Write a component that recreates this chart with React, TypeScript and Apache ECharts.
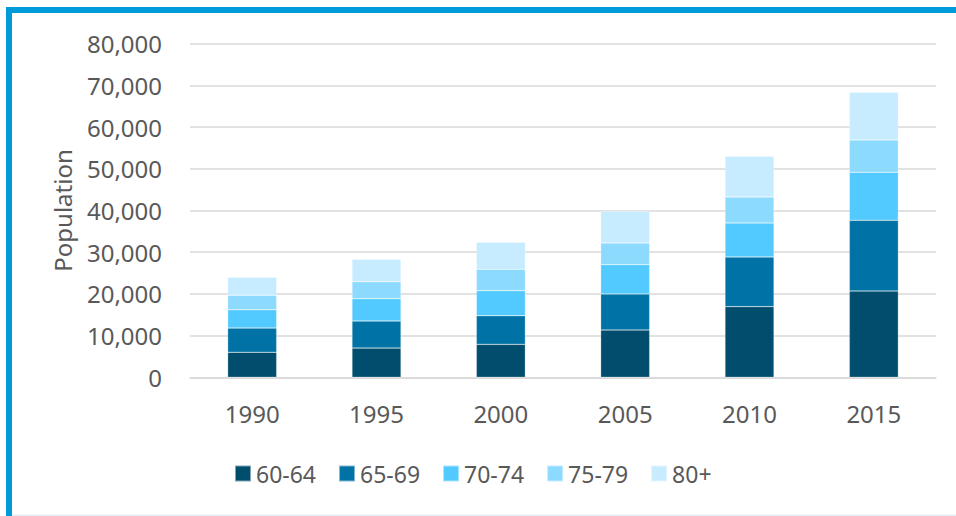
import React, { useEffect, useRef } from "react";
import * as echarts from "echarts";

const years = ["1990", "1995", "2000", "2005", "2010", "2015"];
const ageGroups = ["60-64", "65-69", "70-74", "75-79", "80+"];
const age6064 = [6000, 7000, 7900, 11350, 16950, 20700];
const age6569 = [5800, 6500, 6870, 8630, 11900, 16950];
const age7074 = [4400, 5350, 6000, 7050, 8150, 11510];
const age7579 = [3500, 4070, 5130, 5200, 6240, 7740];
const age80plus = [4300, 5400, 6470, 7600, 9760, 11450];
const groupColors = ["#004D6E", "#0072A5", "#52CAFF", "#8DDAFF", "#C7EBFF"];

const FONT = "'Noto Sans', sans-serif";
const TEXT = "#595959";
const SIZE = 24;

export default function App() {
  const ref = useRef<HTMLDivElement>(null);

  useEffect(() => {
    if (!ref.current) return;
    const chart = echarts.init(ref.current, null, { renderer: "svg" });
    const values = [age6064, age6569, age7074, age7579, age80plus];
    chart.setOption({
      animation: false,
      backgroundColor: "#ffffff",
      textStyle: { fontFamily: FONT, color: TEXT },
      grid: { left: 190, right: 20, top: 43.7, bottom: 138.7 },
      legend: {
        data: ageGroups,
        left: 234,
        top: 462,
        padding: 0,
        itemWidth: 16,
        itemHeight: 16,
        itemGap: 22,
        icon: "rect",
        textStyle: { fontFamily: FONT, fontSize: SIZE - 1, color: TEXT },
      },
      xAxis: {
        type: "category",
        data: years,
        axisLine: { show: true, lineStyle: { color: "#D9D9D9", width: 1.5 } },
        axisTick: { show: false },
        axisLabel: { fontFamily: FONT, fontSize: SIZE, color: TEXT, margin: 24 },
      },
      yAxis: {
        type: "value",
        min: 0,
        max: 80000,
        interval: 10000,
        name: "Population",
        nameLocation: "middle",
        nameRotate: 90,
        nameGap: 116,
        nameTextStyle: { fontFamily: FONT, fontSize: SIZE, color: TEXT },
        axisLine: { show: false },
        axisTick: { show: false },
        splitLine: { lineStyle: { color: "#D9D9D9", width: 1.5 } },
        axisLabel: {
          fontFamily: FONT,
          fontSize: SIZE,
          color: TEXT,
          margin: 28,
          formatter: (v: number) => v.toLocaleString("en-US"),
        },
      },
      series: ageGroups.map((name, i) => ({
        name,
        type: "bar",
        stack: "total",
        barWidth: 49,
        data: values[i],
        itemStyle: {
          color: groupColors[i],
          borderColor: "rgba(255,255,255,0.5)",
          borderWidth: 0.5,
        },
      })),
      graphic: [
        { type: "rect", shape: { x: 6, y: 7, width: 950, height: 6 }, style: { fill: "#009ADB" } },
        { type: "rect", shape: { x: 6, y: 7, width: 6, height: 509 }, style: { fill: "#009ADB" } },
        { type: "rect", shape: { x: 12, y: 514.5, width: 944, height: 1.5 }, style: { fill: "#E6EEF5" } },
      ],
    });
    return () => chart.dispose();
  }, []);

  return (
    <div
      ref={ref}
      style={{ position: "absolute", left: 0, top: 0, width: 956, height: 516 }}
    />
  );
}
